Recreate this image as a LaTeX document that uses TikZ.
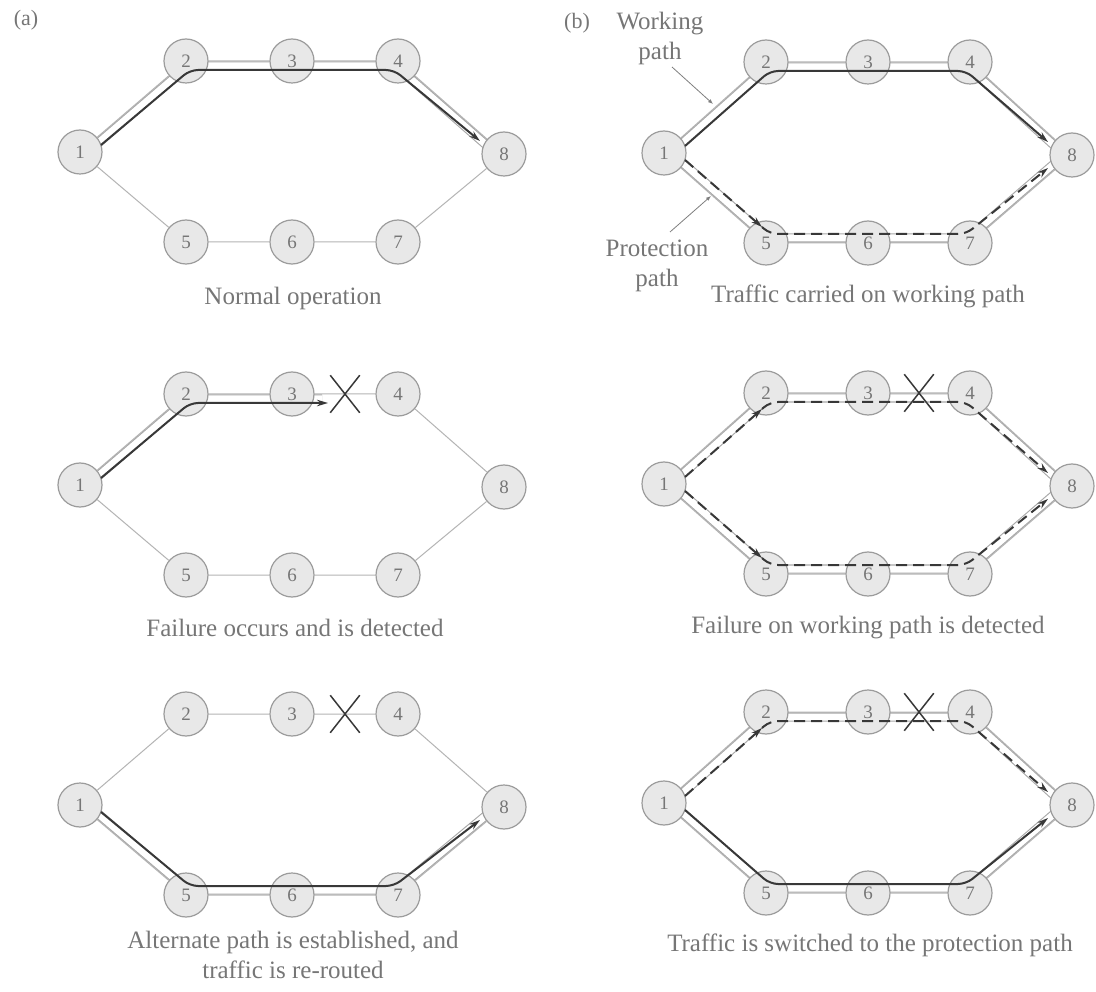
\documentclass[tikz,border=0pt]{standalone}
\usepackage{fontspec}
\setmainfont{Liberation Serif}
\usetikzlibrary{calc,arrows.meta,shapes.misc}
\pgfdeclarelayer{bottom}
\pgfdeclarelayer{background}
\pgfdeclarelayer{front}
\pgfsetlayers{bottom,background,main,front}

\definecolor{nodefill}{HTML}{E8E8E8}
\definecolor{nodeedge}{HTML}{9C9C9C}
\definecolor{linkcol}{HTML}{B4B4B4}
\definecolor{pathcol}{HTML}{383838}
\definecolor{txtcol}{HTML}{767676}
\definecolor{pipecol}{HTML}{A8A8A8}

\tikzset{
  nd/.style={circle, minimum size=44pt, inner sep=0pt, fill=nodefill, draw=nodeedge,
    line width=1.2pt, text=txtcol, font=\fontsize{19}{20}\selectfont},
  link/.style={draw=linkcol, line width=1pt},
  pipe/.style={draw=pipecol, line width=1.1pt, double=white, double distance=7pt, line join=round},
  work/.style={draw=pathcol, line width=2pt, rounded corners=8pt, -{Stealth[length=11pt,width=6.5pt]}},
  prot/.style={work, dash pattern=on 11pt off 6pt},
  fail/.style={cross out, draw=pathcol, line width=1.5pt, minimum width=28pt, minimum height=36pt, inner sep=0pt},
  captxt/.style={text=txtcol, font=\fontsize{25}{30}\selectfont, align=center},
  pointer/.style={draw=linkcol!70!black, line width=0.8pt, -{Latex[length=5pt,width=4pt]}},
}

% network: prefix, x of node 1, y of node 1, spacing
\newcommand{\net}[4]{%
  \node[nd] (#1-1) at (#2,#3) {1};
  \node[nd] (#1-2) at ({#2+#4},{#3-91}) {2};
  \node[nd] (#1-3) at ({#2+2*#4},{#3-91}) {3};
  \node[nd] (#1-4) at ({#2+3*#4},{#3-91}) {4};
  \node[nd] (#1-8) at ({#2+4*#4},{#3+2}) {8};
  \node[nd] (#1-5) at ({#2+#4},{#3+90}) {5};
  \node[nd] (#1-6) at ({#2+2*#4},{#3+90}) {6};
  \node[nd] (#1-7) at ({#2+3*#4},{#3+90}) {7};
  \begin{pgfonlayer}{background}
    \draw[link] (#1-1) -- (#1-2) -- (#1-3) -- (#1-4) -- (#1-8) -- (#1-7) -- (#1-6) -- (#1-5) -- (#1-1);
  \end{pgfonlayer}
}
\newcommand{\pipetop}[1]{%
  \begin{pgfonlayer}{background}
    \draw[pipe] ($(#1-1)+(3,4)$) -- ($(#1-2)+(2,5)$) -- ($(#1-4)+(-2,5)$) -- ($(#1-8)+(-3,4)$);
  \end{pgfonlayer}}
\newcommand{\pipebot}[1]{%
  \begin{pgfonlayer}{background}
    \draw[pipe] ($(#1-1)+(3,-4)$) -- ($(#1-5)+(2,-5)$) -- ($(#1-7)+(-2,-5)$) -- ($(#1-8)+(-3,-4)$);
  \end{pgfonlayer}}
\newcommand{\worktop}[1]{%
  \draw[work] ($(#1-1)+(21,-7)$) -- ($(#1-2)+(4,9)$) -- ($(#1-4)+(-4,9)$) -- ($(#1-8)+(-24,-13)$);}
\newcommand{\workbot}[1]{%
  \draw[work] ($(#1-1)+(21,7)$) -- ($(#1-5)+(4,-9)$) -- ($(#1-7)+(-4,-9)$) -- ($(#1-8)+(-24,13)$);}
\newcommand{\prottop}[1]{%
  \draw[prot] ($(#1-1)+(21,-7)$) -- ($(#1-2)+(-4,16)$);
  \draw[prot] ($(#1-2)+(-4,16)$) -- ($(#1-2)+(4,9)$) -- ($(#1-4)+(-4,9)$) -- ($(#1-8)+(-24,-13)$);}
\newcommand{\protbot}[1]{%
  \draw[prot] ($(#1-1)+(21,7)$) -- ($(#1-5)+(-4,-16)$);
  \draw[prot] ($(#1-5)+(-4,-16)$) -- ($(#1-5)+(4,-9)$) -- ($(#1-7)+(-4,-9)$) -- ($(#1-8)+(-24,13)$);}

\begin{document}
\begin{tikzpicture}[x=1pt,y=-1pt]
\useasboundingbox (0,0) rectangle (1096,992);
\begin{pgfonlayer}{bottom}
  \fill[white] (0,0) rectangle (1096,992);
\end{pgfonlayer}

% panel labels
\node[captxt, font=\fontsize{22}{26}\selectfont] (la) at (26,20) {(a)};
\node[captxt, font=\fontsize{22}{26}\selectfont] (lb) at (577,23) {(b)};

% ---------- (a) top: normal operation
\net{A1}{80}{152}{106}
\pipetop{A1}
\begin{pgfonlayer}{front}\worktop{A1}\end{pgfonlayer}
\node[captxt] (capA1) at (293,298) {Normal operation};

% ---------- (a) middle: failure occurs
\net{A2}{80}{485}{106}
\begin{pgfonlayer}{background}
  \draw[pipe] ($(A2-1)+(3,4)$) -- ($(A2-2)+(2,5)$) -- ($(A2-3)+(30,5)$);
\end{pgfonlayer}
\begin{pgfonlayer}{front}
  \draw[work] ($(A2-1)+(21,-7)$) -- ($(A2-2)+(4,9)$) -- ($(A2-3)+(36,9)$);
  \node[fail] (A2-x) at ($(A2-3)!0.5!(A2-4)$) {};
\end{pgfonlayer}
\node[captxt] (capA2) at (295,628) {Failure occurs and is detected};

% ---------- (a) bottom: re-routed
\net{A3}{80}{805}{106}
\pipebot{A3}
\begin{pgfonlayer}{front}
  \workbot{A3}
  \node[fail] (A3-x) at ($(A3-3)!0.5!(A3-4)$) {};
\end{pgfonlayer}
\node[captxt] (capA3) at (293,955) {Alternate path is established, and\\traffic is re-routed};

% ---------- (b) top: working path
\net{B1}{664}{153}{102}
\pipetop{B1}
\pipebot{B1}
\begin{pgfonlayer}{front}
  \worktop{B1}
  \protbot{B1}
\end{pgfonlayer}
\node[captxt] (wlab) at (660,38) {Working\\path};
\node[captxt] (plab) at (657,266) {Protection\\path};
\coordinate (wp0) at (672,67);
\coordinate (wp1) at (713,104);
\coordinate (pp0) at (670,232);
\coordinate (pp1) at (711,196);
\draw[pointer] (wp0) -- (wp1);
\draw[pointer] (pp0) -- (pp1);
\node[captxt] (capB1) at (868,296) {Traffic carried on working path};

% ---------- (b) middle: failure detected
\net{B2}{664}{484}{102}
\pipetop{B2}
\pipebot{B2}
\begin{pgfonlayer}{front}
  \prottop{B2}
  \protbot{B2}
  \node[fail] (B2-x) at ($(B2-3)!0.5!(B2-4)$) {};
\end{pgfonlayer}
\node[captxt] (capB2) at (868,628) {Failure on working path is detected};

% ---------- (b) bottom: switched
\net{B3}{664}{803}{102}
\pipetop{B3}
\pipebot{B3}
\begin{pgfonlayer}{front}
  \prottop{B3}
  \workbot{B3}
  \node[fail] (B3-x) at ($(B3-3)!0.5!(B3-4)$) {};
\end{pgfonlayer}
\node[captxt] (capB3) at (870,945) {Traffic is switched to the protection path};
\end{tikzpicture}
\end{document}
